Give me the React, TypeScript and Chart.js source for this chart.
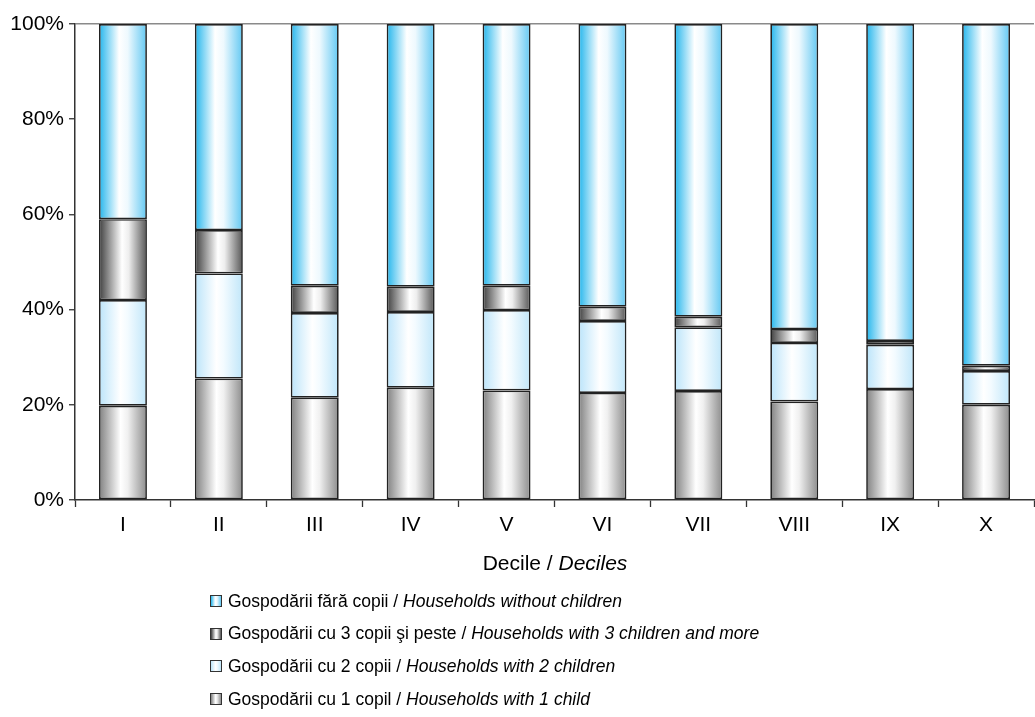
import React, { useEffect, useRef } from "react";
import { Chart, registerables } from "chart.js";

Chart.register(...registerables);

const deciles = ["I", "II", "III", "IV", "V", "VI", "VII", "VIII", "IX", "X"];
const oneChild = [19.8, 25.5, 21.5, 23.6, 23.0, 22.5, 22.9, 20.7, 23.3, 20.0];
const twoChildren = [22.2, 22.1, 17.8, 15.9, 16.9, 15.1, 13.4, 12.3, 9.3, 7.1];
const threePlus = [17.0, 9.1, 5.7, 5.3, 5.1, 3.0, 2.2, 2.9, 0.8, 1.1];
const noChildren = [41.0, 43.3, 55.0, 55.2, 55.0, 59.4, 61.5, 64.1, 66.6, 71.8];
const yTicks = [0, 20, 40, 60, 80, 100];

const FONT = '"Liberation Sans", Arial, Helvetica, sans-serif';
const FS_AXIS = 21;
const FS_LEGEND = 17.5;

type Stop = [number, string];
const blueStops: Stop[] = [[0, "#22b5ec"], [0.42, "#ffffff"], [0.6, "#eef9fe"], [1, "#62c8f2"]];
const darkStops: Stop[] = [[0, "#3e3e3e"], [0.48, "#ffffff"], [0.62, "#eeeeee"], [1, "#555555"]];
const lightStops: Stop[] = [[0, "#bbe4fa"], [0.45, "#ffffff"], [0.6, "#f3fbff"], [1, "#c0e6f9"]];
const grayStops: Stop[] = [[0, "#808080"], [0.45, "#ffffff"], [0.6, "#f0f0f0"], [1, "#8c8c8c"]];

function grad(stops: Stop[]) {
  return (ctx: any) => {
    const chart = ctx.chart;
    const xs = chart.scales && chart.scales.x;
    if (!xs || ctx.dataIndex == null || !chart.chartArea) return stops[0][1];
    const cx = xs.getPixelForValue(ctx.dataIndex);
    const w = (xs.width / deciles.length) * 0.5;
    const g = chart.ctx.createLinearGradient(cx - w / 2, 0, cx + w / 2, 0);
    stops.forEach(([o, c]) => g.addColorStop(o, c));
    return g;
  };
}

function cssGrad(stops: Stop[]) {
  return "linear-gradient(to right, " + stops.map(([o, c]) => `${c} ${o * 100}%`).join(", ") + ")";
}

const legendItems: { ro: string; en: string; stops: Stop[] }[] = [
  { ro: "Gospodării fără copii / ", en: "Households without children", stops: blueStops },
  { ro: "Gospodării cu 3 copii şi peste / ", en: "Households with 3 children and more", stops: darkStops },
  { ro: "Gospodării cu 2 copii / ", en: "Households with 2 children", stops: lightStops },
  { ro: "Gospodării cu 1 copil / ", en: "Households with 1 child", stops: grayStops },
];

export default function App() {
  const ref = useRef<HTMLCanvasElement | null>(null);

  useEffect(() => {
    if (!ref.current) return;
    const border = "#222222";
    const bw = 1.7;
    const chart = new Chart(ref.current, {
      type: "bar",
      data: {
        labels: deciles,
        datasets: [
          { label: "1", data: oneChild, backgroundColor: grad(grayStops), borderColor: border, borderWidth: bw, borderSkipped: false },
          { label: "2", data: twoChildren, backgroundColor: grad(lightStops), borderColor: border, borderWidth: bw, borderSkipped: false },
          { label: "3", data: threePlus, backgroundColor: grad(darkStops), borderColor: border, borderWidth: bw, borderSkipped: false },
          { label: "0", data: noChildren, backgroundColor: grad(blueStops), borderColor: border, borderWidth: bw, borderSkipped: false },
        ] as any,
      },
      options: {
        animation: false,
        responsive: false,
        maintainAspectRatio: false,
        layout: { padding: { top: 24, right: 1, left: 0, bottom: 0 } },
        datasets: { bar: { barPercentage: 0.5, categoryPercentage: 1 } } as any,
        plugins: { legend: { display: false }, tooltip: { enabled: false } },
        scales: {
          x: {
            stacked: true,
            grid: { drawOnChartArea: false, offset: true, tickLength: 7, tickColor: "#333", tickWidth: 1.3 },
            border: { display: true, color: "#333", width: 1.5 },
            ticks: { color: "#000", font: { family: FONT, size: FS_AXIS }, padding: 6, maxRotation: 0 },
            afterFit: (s: any) => { s.height = 217; },
          },
          y: {
            stacked: true,
            min: 0,
            max: 100,
            afterBuildTicks: (s: any) => { s.ticks = yTicks.map((v) => ({ value: v })); },
            grid: {
              drawOnChartArea: true,
              color: (c: any) => (c.tick && c.tick.value === 100 ? "#8a8a8a" : "rgba(0,0,0,0)"),
              lineWidth: 1.5,
              tickLength: 6,
              tickColor: "#333",
              tickWidth: 1.3,
            },
            border: { display: true, color: "#333", width: 1.5 },
            ticks: { color: "#000", font: { family: FONT, size: FS_AXIS }, padding: 5, callback: (v: any) => v + "%" },
            afterFit: (s: any) => { s.width = 75; },
          },
        },
      } as any,
    });
    return () => chart.destroy();
  }, []);

  return (
    <div style={{ position: "fixed", left: 0, top: 0, width: 1035, height: 717, background: "#fff", fontFamily: FONT }}>
      <canvas ref={ref} width={1035} height={717} style={{ position: "absolute", left: 0, top: 0, width: 1035, height: 717 }} />
      <div style={{ position: "absolute", left: 0, width: 1110, top: 551, textAlign: "center", fontSize: FS_AXIS, color: "#000", lineHeight: "24px" }}>
        Decile / <i>Deciles</i>
      </div>
      {legendItems.map((it, i) => (
        <div key={i} style={{ position: "absolute", left: 210, top: 590 + i * 32.7, height: 22, display: "flex", alignItems: "center", fontSize: FS_LEGEND, color: "#000", whiteSpace: "nowrap" }}>
          <span style={{ display: "inline-block", width: 10, height: 10, border: "1px solid #333", background: cssGrad(it.stops), marginRight: 6 }} />
          <span>{it.ro}<i>{it.en}</i></span>
        </div>
      ))}
    </div>
  );
}
